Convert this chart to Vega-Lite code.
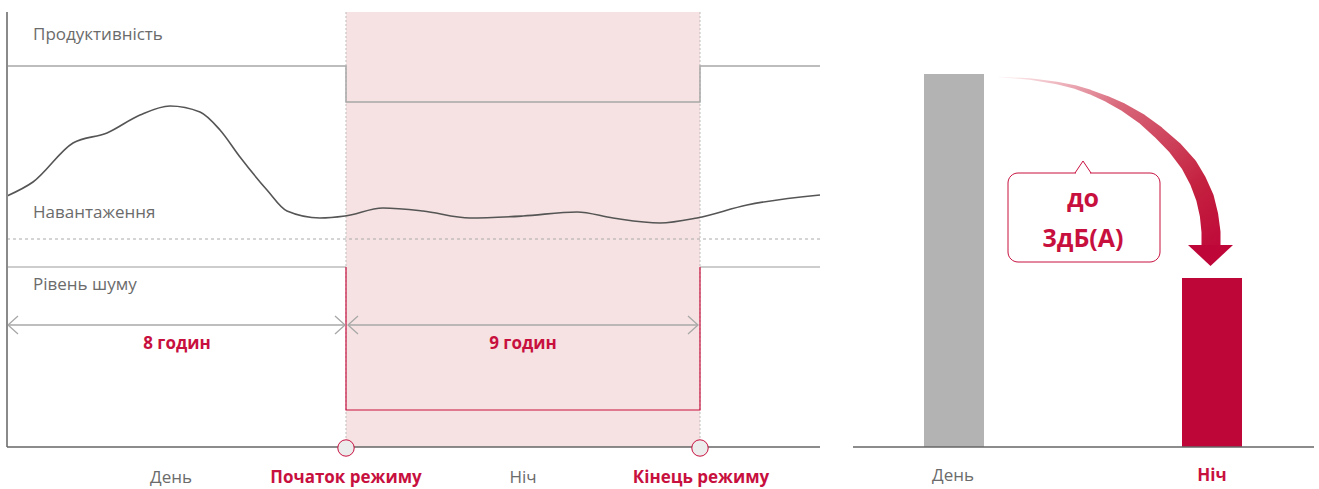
{
  "$schema": "https://vega.github.io/schema/vega-lite/v6.json",
  "width": 1319,
  "height": 489,
  "autosize": {"type": "fit", "contains": "padding"},
  "padding": 0,
  "background": "white",
  "config": {"view": {"stroke": null}, "text": {"font": "Open Sans"}},
  "datasets": {
    "lines": [
      {"s": "axisL", "g": "a1", "o": 1, "x": 7, "y": 12},
      {"s": "axisL", "g": "a1", "o": 2, "x": 7, "y": 447},
      {"s": "base", "g": "b1", "o": 1, "x": 7, "y": 447},
      {"s": "base", "g": "b1", "o": 2, "x": 820, "y": 447},
      {"s": "base", "g": "b2", "o": 1, "x": 853, "y": 447},
      {"s": "base", "g": "b2", "o": 2, "x": 1314, "y": 447},
      {"s": "prod", "g": "p", "o": 1, "x": 7, "y": 66},
      {"s": "prod", "g": "p", "o": 2, "x": 346, "y": 66},
      {"s": "prod", "g": "p", "o": 3, "x": 346, "y": 102},
      {"s": "prod", "g": "p", "o": 4, "x": 700, "y": 102},
      {"s": "prod", "g": "p", "o": 5, "x": 700, "y": 66},
      {"s": "prod", "g": "p", "o": 6, "x": 820, "y": 66},
      {"s": "noiseGray", "g": "n1", "o": 1, "x": 7, "y": 267},
      {"s": "noiseGray", "g": "n1", "o": 2, "x": 346, "y": 267},
      {"s": "noiseGray", "g": "n2", "o": 1, "x": 700, "y": 267},
      {"s": "noiseGray", "g": "n2", "o": 2, "x": 820, "y": 267},
      {"s": "noiseRed", "g": "r", "o": 1, "x": 346, "y": 267},
      {"s": "noiseRed", "g": "r", "o": 2, "x": 346, "y": 410},
      {"s": "noiseRed", "g": "r", "o": 3, "x": 700, "y": 410},
      {"s": "noiseRed", "g": "r", "o": 4, "x": 700, "y": 267},
      {"s": "dashH", "g": "d", "o": 1, "x": 7, "y": 239},
      {"s": "dashH", "g": "d", "o": 2, "x": 820, "y": 239},
      {"s": "dotV", "g": "v1", "o": 1, "x": 346, "y": 12},
      {"s": "dotV", "g": "v1", "o": 2, "x": 346, "y": 447},
      {"s": "dotV", "g": "v2", "o": 1, "x": 700, "y": 12},
      {"s": "dotV", "g": "v2", "o": 2, "x": 700, "y": 447},
      {"s": "arrows", "g": "s1", "o": 1, "x": 8, "y": 325},
      {"s": "arrows", "g": "s1", "o": 2, "x": 345, "y": 325},
      {"s": "arrows", "g": "s2", "o": 1, "x": 348, "y": 325},
      {"s": "arrows", "g": "s2", "o": 2, "x": 698, "y": 325},
      {"s": "arrows", "g": "c1", "o": 1, "x": 18, "y": 316},
      {"s": "arrows", "g": "c1", "o": 2, "x": 8, "y": 325},
      {"s": "arrows", "g": "c1", "o": 3, "x": 18, "y": 334},
      {"s": "arrows", "g": "c2", "o": 1, "x": 335, "y": 316},
      {"s": "arrows", "g": "c2", "o": 2, "x": 345, "y": 325},
      {"s": "arrows", "g": "c2", "o": 3, "x": 335, "y": 334},
      {"s": "arrows", "g": "c3", "o": 1, "x": 358, "y": 316},
      {"s": "arrows", "g": "c3", "o": 2, "x": 348, "y": 325},
      {"s": "arrows", "g": "c3", "o": 3, "x": 358, "y": 334},
      {"s": "arrows", "g": "c4", "o": 1, "x": 688, "y": 316},
      {"s": "arrows", "g": "c4", "o": 2, "x": 698, "y": 325},
      {"s": "arrows", "g": "c4", "o": 3, "x": 688, "y": 334},
      {"s": "load", "g": "L", "o": 1, "x": 7, "y": 196},
      {"s": "load", "g": "L", "o": 2, "x": 33, "y": 182},
      {"s": "load", "g": "L", "o": 3, "x": 73, "y": 143},
      {"s": "load", "g": "L", "o": 4, "x": 107, "y": 133},
      {"s": "load", "g": "L", "o": 5, "x": 140, "y": 115},
      {"s": "load", "g": "L", "o": 6, "x": 170, "y": 106},
      {"s": "load", "g": "L", "o": 7, "x": 200, "y": 112},
      {"s": "load", "g": "L", "o": 8, "x": 220, "y": 130},
      {"s": "load", "g": "L", "o": 9, "x": 240, "y": 157},
      {"s": "load", "g": "L", "o": 10, "x": 267, "y": 190},
      {"s": "load", "g": "L", "o": 11, "x": 287, "y": 211},
      {"s": "load", "g": "L", "o": 12, "x": 320, "y": 218},
      {"s": "load", "g": "L", "o": 13, "x": 345, "y": 216},
      {"s": "load", "g": "L", "o": 14, "x": 383, "y": 208},
      {"s": "load", "g": "L", "o": 15, "x": 423, "y": 211},
      {"s": "load", "g": "L", "o": 16, "x": 470, "y": 218},
      {"s": "load", "g": "L", "o": 17, "x": 523, "y": 216},
      {"s": "load", "g": "L", "o": 18, "x": 577, "y": 212},
      {"s": "load", "g": "L", "o": 19, "x": 613, "y": 218},
      {"s": "load", "g": "L", "o": 20, "x": 660, "y": 223},
      {"s": "load", "g": "L", "o": 21, "x": 697, "y": 218},
      {"s": "load", "g": "L", "o": 22, "x": 747, "y": 205},
      {"s": "load", "g": "L", "o": 23, "x": 820, "y": 195},
      {"s": "mask", "g": "m", "o": 1, "x": 1076, "y": 173},
      {"s": "mask", "g": "m", "o": 2, "x": 1090, "y": 173},
      {"s": "pointer", "g": "ptr", "o": 1, "x": 1075, "y": 173},
      {"s": "pointer", "g": "ptr", "o": 2, "x": 1083, "y": 161},
      {"s": "pointer", "g": "ptr", "o": 3, "x": 1091, "y": 173}
    ],
    "rects": [
      {"k": "band", "x1": 346, "x2": 700, "y1": 12, "y2": 447},
      {"k": "dayBar", "x1": 924, "x2": 984, "y1": 74, "y2": 447},
      {"k": "nightBar", "x1": 1182, "x2": 1242, "y1": 278, "y2": 447},
      {"k": "callout", "x1": 1008, "x2": 1160, "y1": 173, "y2": 262}
    ],
    "circles": [
      {"x": 346, "y": 448},
      {"x": 700, "y": 448}
    ],
    "trail": [
      {"o": 1, "x": 999, "y": 77, "t": 0},
      {"o": 2, "x": 1030, "y": 79, "t": 0.05},
      {"o": 3, "x": 1057, "y": 83, "t": 0.11},
      {"o": 4, "x": 1075, "y": 87, "t": 0.16},
      {"o": 5, "x": 1090, "y": 92, "t": 0.22},
      {"o": 6, "x": 1107, "y": 99, "t": 0.3},
      {"o": 7, "x": 1123, "y": 107, "t": 0.4},
      {"o": 8, "x": 1142, "y": 119, "t": 0.51},
      {"o": 9, "x": 1158, "y": 132, "t": 0.62},
      {"o": 10, "x": 1175, "y": 148, "t": 0.73},
      {"o": 11, "x": 1189, "y": 165, "t": 0.84},
      {"o": 12, "x": 1198, "y": 181, "t": 0.89},
      {"o": 13, "x": 1205, "y": 198, "t": 0.95},
      {"o": 14, "x": 1209, "y": 215, "t": 0.97},
      {"o": 15, "x": 1211, "y": 232, "t": 1},
      {"o": 16, "x": 1211, "y": 247, "t": 1}
    ],
    "head": [
      {"x": 1210.5, "y": 255.5}
    ],
    "texts": [
      {"k": "label", "t": "Продуктивність", "x": 33, "y": 40},
      {"k": "label", "t": "Навантаження", "x": 33, "y": 218},
      {"k": "label", "t": "Рівень шуму", "x": 33, "y": 290},
      {"k": "hours", "t": "8 годин", "x": 177, "y": 349},
      {"k": "hours", "t": "9 годин", "x": 523, "y": 349},
      {"k": "axisGray", "t": "День", "x": 171, "y": 483},
      {"k": "axisRed", "t": "Початок режиму", "x": 346, "y": 483},
      {"k": "axisGray", "t": "Ніч", "x": 523, "y": 483},
      {"k": "axisRed", "t": "Кінець режиму", "x": 701, "y": 483},
      {"k": "axisGray", "t": "День", "x": 953, "y": 481},
      {"k": "axisRed", "t": "Ніч", "x": 1212, "y": 481},
      {"k": "callout", "t": "до", "x": 1083, "y": 207},
      {"k": "callout", "t": "3дБ(А)", "x": 1083, "y": 247}
    ]
  },
  "layer": [
    {
      "data": {"name": "rects"},
      "transform": [{"filter": "datum.k === 'band'"}],
      "mark": {"type": "rect", "fill": "#f6e2e2"},
      "encoding": {
        "x": {"field": "x1", "type": "quantitative", "scale": {"domain": [0, 1319], "nice": false, "zero": false}, "axis": null},
        "x2": {"field": "x2"},
        "y": {"field": "y1", "type": "quantitative", "scale": {"domain": [0, 489], "nice": false, "zero": false, "reverse": true}, "axis": null},
        "y2": {"field": "y2"}
      }
    },
    {
      "data": {"name": "lines"},
      "transform": [{"filter": "datum.s === 'dotV'"}],
      "mark": {"type": "line", "stroke": "#bdbdbd", "strokeWidth": 1, "strokeDash": [2, 2]},
      "encoding": {
        "x": {"field": "x", "type": "quantitative", "axis": null},
        "y": {"field": "y", "type": "quantitative", "axis": null},
        "detail": {"field": "g"},
        "order": {"field": "o"}
      }
    },
    {
      "data": {"name": "lines"},
      "transform": [{"filter": "datum.s === 'dashH'"}],
      "mark": {"type": "line", "stroke": "#aaaaaa", "strokeWidth": 1, "strokeDash": [3, 3]},
      "encoding": {
        "x": {"field": "x", "type": "quantitative", "axis": null},
        "y": {"field": "y", "type": "quantitative", "axis": null},
        "detail": {"field": "g"},
        "order": {"field": "o"}
      }
    },
    {
      "data": {"name": "lines"},
      "transform": [{"filter": "datum.s === 'prod'"}],
      "mark": {"type": "line", "stroke": "#a8a8a8", "strokeWidth": 1.5},
      "encoding": {
        "x": {"field": "x", "type": "quantitative", "axis": null},
        "y": {"field": "y", "type": "quantitative", "axis": null},
        "detail": {"field": "g"},
        "order": {"field": "o"}
      }
    },
    {
      "data": {"name": "lines"},
      "transform": [{"filter": "datum.s === 'noiseGray'"}],
      "mark": {"type": "line", "stroke": "#bdbdbd", "strokeWidth": 1.5},
      "encoding": {
        "x": {"field": "x", "type": "quantitative", "axis": null},
        "y": {"field": "y", "type": "quantitative", "axis": null},
        "detail": {"field": "g"},
        "order": {"field": "o"}
      }
    },
    {
      "data": {"name": "lines"},
      "transform": [{"filter": "datum.s === 'noiseRed'"}],
      "mark": {"type": "line", "stroke": "#c8103f", "strokeWidth": 1.2},
      "encoding": {
        "x": {"field": "x", "type": "quantitative", "axis": null},
        "y": {"field": "y", "type": "quantitative", "axis": null},
        "detail": {"field": "g"},
        "order": {"field": "o"}
      }
    },
    {
      "data": {"name": "lines"},
      "transform": [{"filter": "datum.s === 'load'"}],
      "mark": {"type": "line", "stroke": "#555555", "strokeWidth": 1.6, "interpolate": "monotone"},
      "encoding": {
        "x": {"field": "x", "type": "quantitative", "axis": null},
        "y": {"field": "y", "type": "quantitative", "axis": null},
        "detail": {"field": "g"},
        "order": {"field": "o"}
      }
    },
    {
      "data": {"name": "lines"},
      "transform": [{"filter": "datum.s === 'arrows'"}],
      "mark": {"type": "line", "stroke": "#a8a8a8", "strokeWidth": 1.3},
      "encoding": {
        "x": {"field": "x", "type": "quantitative", "axis": null},
        "y": {"field": "y", "type": "quantitative", "axis": null},
        "detail": {"field": "g"},
        "order": {"field": "o"}
      }
    },
    {
      "data": {"name": "lines"},
      "transform": [{"filter": "datum.s === 'axisL'"}],
      "mark": {"type": "line", "stroke": "#8a8a8a", "strokeWidth": 2},
      "encoding": {
        "x": {"field": "x", "type": "quantitative", "axis": null},
        "y": {"field": "y", "type": "quantitative", "axis": null},
        "detail": {"field": "g"},
        "order": {"field": "o"}
      }
    },
    {
      "data": {"name": "rects"},
      "transform": [{"filter": "datum.k === 'dayBar'"}],
      "mark": {"type": "rect", "fill": "#b3b3b3"},
      "encoding": {
        "x": {"field": "x1", "type": "quantitative", "axis": null},
        "x2": {"field": "x2"},
        "y": {"field": "y1", "type": "quantitative", "axis": null},
        "y2": {"field": "y2"}
      }
    },
    {
      "data": {"name": "rects"},
      "transform": [{"filter": "datum.k === 'nightBar'"}],
      "mark": {"type": "rect", "fill": "#be0639"},
      "encoding": {
        "x": {"field": "x1", "type": "quantitative", "axis": null},
        "x2": {"field": "x2"},
        "y": {"field": "y1", "type": "quantitative", "axis": null},
        "y2": {"field": "y2"}
      }
    },
    {
      "data": {"name": "lines"},
      "transform": [{"filter": "datum.s === 'base'"}],
      "mark": {"type": "line", "stroke": "#666666", "strokeWidth": 1.5},
      "encoding": {
        "x": {"field": "x", "type": "quantitative", "axis": null},
        "y": {"field": "y", "type": "quantitative", "axis": null},
        "detail": {"field": "g"},
        "order": {"field": "o"}
      }
    },
    {
      "data": {"name": "circles"},
      "mark": {"type": "point", "shape": "circle", "filled": true, "fill": "#ececec", "stroke": "#c8103f", "strokeWidth": 1, "size": 270, "opacity": 1},
      "encoding": {
        "x": {"field": "x", "type": "quantitative", "axis": null},
        "y": {"field": "y", "type": "quantitative", "axis": null}
      }
    },
    {
      "data": {"name": "trail"},
      "mark": {"type": "trail", "fill": {"gradient": "linear", "x1": 0, "y1": 0, "x2": 1, "y2": 1, "stops": [{"offset": 0, "color": "#fff4f5"}, {"offset": 0.35, "color": "#d8677a"}, {"offset": 0.75, "color": "#c4213f"}, {"offset": 1, "color": "#be0639"}]}},
      "encoding": {
        "x": {"field": "x", "type": "quantitative", "axis": null},
        "y": {"field": "y", "type": "quantitative", "axis": null},
        "order": {"field": "o"},
        "size": {"field": "t", "type": "quantitative", "scale": {"domain": [0, 1], "range": [0.5, 19]}, "legend": null}
      }
    },
    {
      "data": {"name": "head"},
      "mark": {"type": "point", "shape": "M-1,-0.467L1,-0.467L0,0.467Z", "filled": true, "fill": "#be0639", "strokeWidth": 0, "size": 2025, "opacity": 1},
      "encoding": {
        "x": {"field": "x", "type": "quantitative", "axis": null},
        "y": {"field": "y", "type": "quantitative", "axis": null}
      }
    },
    {
      "data": {"name": "rects"},
      "transform": [{"filter": "datum.k === 'callout'"}],
      "mark": {"type": "rect", "fill": "white", "stroke": "#c8103f", "strokeWidth": 1, "cornerRadius": 10},
      "encoding": {
        "x": {"field": "x1", "type": "quantitative", "axis": null},
        "x2": {"field": "x2"},
        "y": {"field": "y1", "type": "quantitative", "axis": null},
        "y2": {"field": "y2"}
      }
    },
    {
      "data": {"name": "lines"},
      "transform": [{"filter": "datum.s === 'mask'"}],
      "mark": {"type": "line", "stroke": "white", "strokeWidth": 2.5},
      "encoding": {
        "x": {"field": "x", "type": "quantitative", "axis": null},
        "y": {"field": "y", "type": "quantitative", "axis": null},
        "detail": {"field": "g"},
        "order": {"field": "o"}
      }
    },
    {
      "data": {"name": "lines"},
      "transform": [{"filter": "datum.s === 'pointer'"}],
      "mark": {"type": "line", "stroke": "#c8103f", "strokeWidth": 1},
      "encoding": {
        "x": {"field": "x", "type": "quantitative", "axis": null},
        "y": {"field": "y", "type": "quantitative", "axis": null},
        "detail": {"field": "g"},
        "order": {"field": "o"}
      }
    },
    {
      "data": {"name": "texts"},
      "transform": [{"filter": "datum.k === 'label'"}],
      "mark": {"type": "text", "align": "left", "baseline": "alphabetic", "fontSize": 17, "fill": "#6b6b6b", "font": "Open Sans"},
      "encoding": {
        "x": {"field": "x", "type": "quantitative", "axis": null},
        "y": {"field": "y", "type": "quantitative", "axis": null},
        "text": {"field": "t"}
      }
    },
    {
      "data": {"name": "texts"},
      "transform": [{"filter": "datum.k === 'hours' || datum.k === 'axisRed'"}],
      "mark": {"type": "text", "align": "center", "baseline": "alphabetic", "fontSize": 17, "fontWeight": "bold", "fill": "#c8103f", "font": "Open Sans"},
      "encoding": {
        "x": {"field": "x", "type": "quantitative", "axis": null},
        "y": {"field": "y", "type": "quantitative", "axis": null},
        "text": {"field": "t"}
      }
    },
    {
      "data": {"name": "texts"},
      "transform": [{"filter": "datum.k === 'axisGray'"}],
      "mark": {"type": "text", "align": "center", "baseline": "alphabetic", "fontSize": 17, "fill": "#6b6b6b", "font": "Open Sans"},
      "encoding": {
        "x": {"field": "x", "type": "quantitative", "axis": null},
        "y": {"field": "y", "type": "quantitative", "axis": null},
        "text": {"field": "t"}
      }
    },
    {
      "data": {"name": "texts"},
      "transform": [{"filter": "datum.k === 'callout'"}],
      "mark": {"type": "text", "align": "center", "baseline": "alphabetic", "fontSize": 25, "fontWeight": "bold", "fill": "#c8103f", "font": "Open Sans"},
      "encoding": {
        "x": {"field": "x", "type": "quantitative", "axis": null},
        "y": {"field": "y", "type": "quantitative", "axis": null},
        "text": {"field": "t"}
      }
    }
  ]
}
